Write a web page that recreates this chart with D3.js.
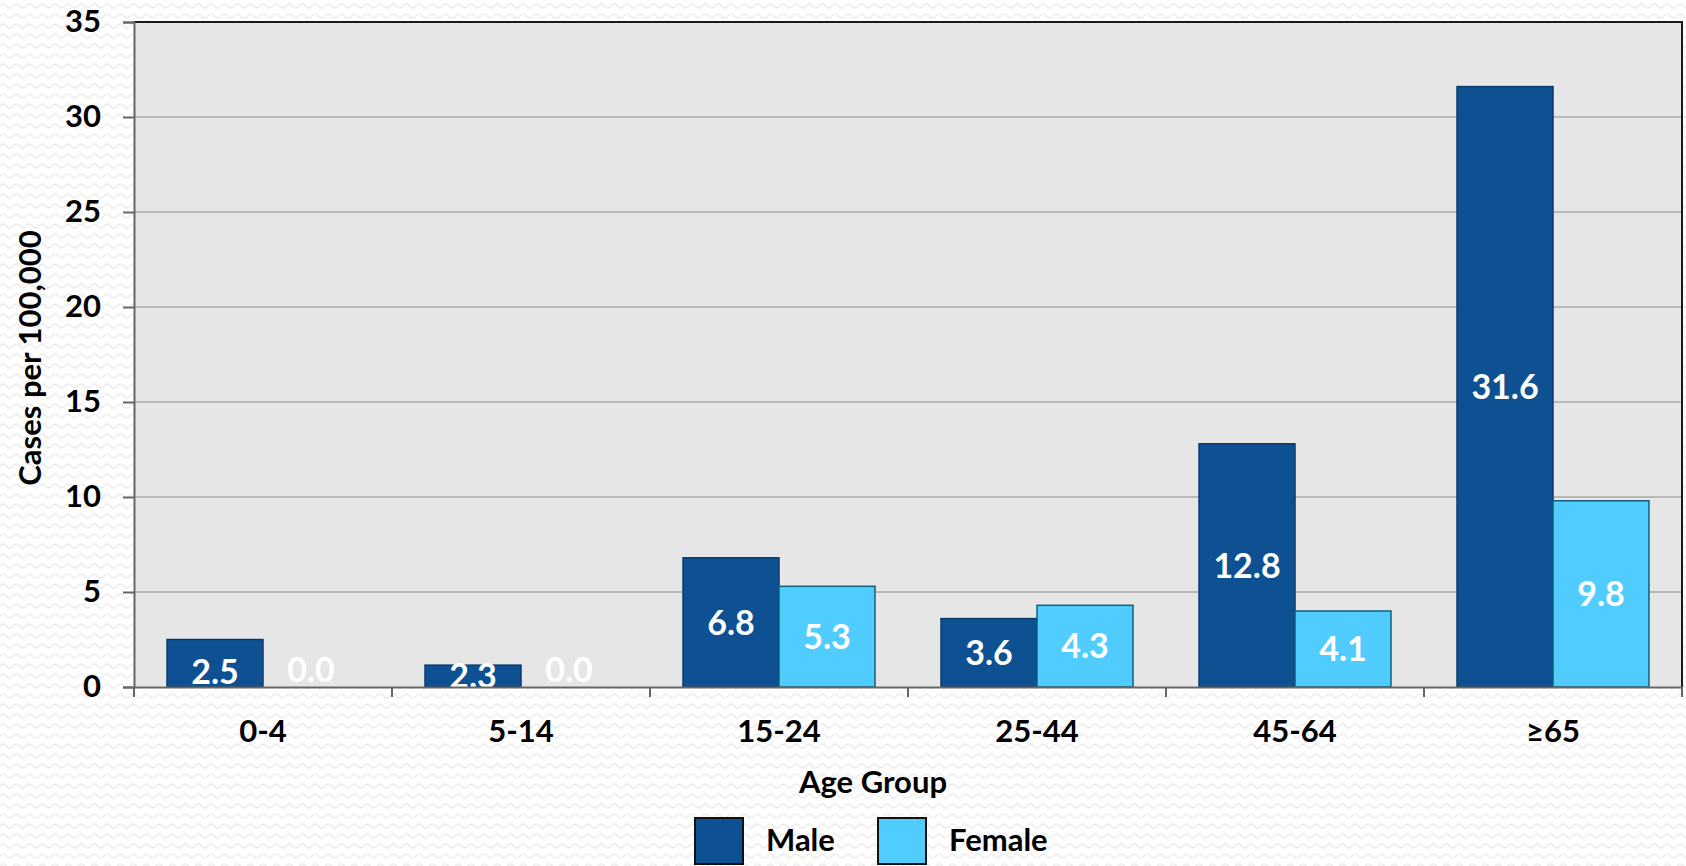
<!DOCTYPE html>
<html>
<head>
<meta charset="utf-8">
<script src="https://cdn.jsdelivr.net/npm/d3@7"></script>
<style>
  html, body { margin: 0; padding: 0; background: #fff; }
  svg { display: block; }
</style>
</head>
<body>
<script>
  "use strict";

  /* chart values */
  var ageGroups = ["0-4", "5-14", "15-24", "25-44", "45-64", "\u226565"];
  var seriesNames = ["Male", "Female"];
  var maleValues = [2.5, 1.15, 6.8, 3.6, 12.8, 31.6];
  var femaleValues = [0.0, 0.0, 5.3, 4.3, 4.0, 9.8];
  /* printed labels (the 5-14 male label does not match its bar in the original) */
  var maleLabels = ["2.5", "2.3", "6.8", "3.6", "12.8", "31.6"];
  var femaleLabels = ["0.0", "0.0", "5.3", "4.3", "4.1", "9.8"];
  var yTicks = [0, 5, 10, 15, 20, 25, 30, 35];

  var width = 1686, height = 866;
  var plotLeft = 134, plotRight = 1682, plotTop = 22, plotBottom = 687;
  var font = "Lato, 'Open Sans', sans-serif";
  var fontSize = "31px";
  var colors = { Male: "#0e5192", Female: "#50cdfe" };
  var strokes = { Male: "#083b6c", Female: "#0f5f80" };

  var svg = d3.select("body")
    .append("svg")
      .attr("width", width)
      .attr("height", height);

  /* faint wavy page texture */
  var defs = svg.append("defs");
  var pat = defs.append("pattern")
      .attr("id", "waves")
      .attr("width", 13)
      .attr("height", 10)
      .attr("patternUnits", "userSpaceOnUse");
  pat.append("rect").attr("width", 13).attr("height", 10).attr("fill", "#ffffff");
  pat.append("path")
      .attr("d", "M0,6 Q3.25,2 6.5,6 T13,6")
      .attr("fill", "none")
      .attr("stroke", "#ececec")
      .attr("stroke-width", 1.3);
  svg.append("rect")
      .attr("width", width)
      .attr("height", height)
      .attr("fill", "url(#waves)");

  var data = ageGroups.map(function (g, i) {
    return [
      { group: g, series: "Male", value: maleValues[i], label: maleLabels[i] },
      { group: g, series: "Female", value: femaleValues[i], label: femaleLabels[i] }
    ];
  });

  var x = d3.scaleBand().domain(ageGroups).range([plotLeft, plotRight]).padding(0);
  var xs = d3.scaleBand().domain(seriesNames).range([0, x.bandwidth()])
      .paddingInner(0).paddingOuter(0.344);
  var y = d3.scaleLinear().domain([0, 35]).range([plotBottom, plotTop]);

  /* plot area */
  svg.append("rect")
      .attr("x", plotLeft).attr("y", plotTop)
      .attr("width", plotRight - plotLeft).attr("height", plotBottom - plotTop)
      .attr("fill", "#e6e6e6");

  /* gridlines */
  svg.append("g")
    .selectAll("line")
    .data(yTicks.filter(function (d) { return d > 0 && d < 35; }))
    .enter().append("line")
      .attr("x1", plotLeft).attr("x2", plotRight)
      .attr("y1", function (d) { return y(d); })
      .attr("y2", function (d) { return y(d); })
      .attr("stroke", "#b9b9b9")
      .attr("stroke-width", 2);

  /* top and right border */
  svg.append("path")
      .attr("d", "M" + plotLeft + "," + plotTop + "H" + plotRight + "V" + plotBottom)
      .attr("fill", "none")
      .attr("stroke", "#1a1a1a")
      .attr("stroke-width", 2);

  /* bars */
  var groups = svg.append("g").selectAll("g")
    .data(data)
    .enter().append("g")
      .attr("transform", function (d, i) { return "translate(" + x(ageGroups[i]) + ",0)"; });

  groups.selectAll("rect")
    .data(function (d) { return d; })
    .enter().append("rect")
      .attr("x", function (d) { return xs(d.series); })
      .attr("y", function (d) { return y(d.value); })
      .attr("width", xs.bandwidth())
      .attr("height", function (d) { return y(0) - y(d.value); })
      .attr("fill", function (d) { return colors[d.series]; })
      .attr("stroke", function (d) { return d.value > 0 ? strokes[d.series] : "none"; })
      .attr("stroke-width", 1.5);

  /* value labels: centred in the bar, short bars keep the label near the base */
  groups.selectAll("text")
    .data(function (d) { return d; })
    .enter().append("text")
      .attr("x", function (d) { return xs(d.series) + xs.bandwidth() / 2; })
      .attr("y", function (d) {
        var c = (y(d.value) + y(0)) / 2;
        if (d.value === 0) return y(0) - 17;
        if (y(0) - y(d.value) < 60) c = Math.max(c, y(0) - 15);
        return c;
      })
      .attr("dy", "0.36em")
      .attr("text-anchor", "middle")
      .style("font-family", font)
      .style("font-weight", "bold")
      .style("font-size", "34px")
      .style("fill", "#ffffff")
      .text(function (d) { return d.label; });

  /* y axis */
  var yAxis = svg.append("g")
      .attr("transform", "translate(" + plotLeft + ",0)")
      .call(d3.axisLeft(y).tickValues(yTicks).tickSize(11).tickPadding(22));
  yAxis.select(".domain").attr("stroke", "#666").attr("stroke-width", 2);
  yAxis.selectAll(".tick line").attr("stroke", "#666").attr("stroke-width", 2);
  yAxis.selectAll(".tick text")
      .style("font-family", font)
      .style("font-weight", "bold")
      .style("font-size", fontSize)
      .style("fill", "#000");

  /* x axis */
  var xAxis = svg.append("g")
      .attr("transform", "translate(0," + plotBottom + ")")
      .call(d3.axisBottom(x).tickSize(0).tickPadding(33));
  xAxis.select(".domain").attr("stroke", "#666").attr("stroke-width", 2);
  xAxis.selectAll(".tick text")
      .style("font-family", font)
      .style("font-weight", "bold")
      .style("font-size", fontSize)
      .style("fill", "#000");
  /* tick marks at band edges */
  xAxis.append("g")
    .selectAll("line")
    .data(ageGroups.concat(["end"]))
    .enter().append("line")
      .attr("x1", function (d, i) { return plotLeft + i * x.step(); })
      .attr("x2", function (d, i) { return plotLeft + i * x.step(); })
      .attr("y1", 0).attr("y2", 10)
      .attr("stroke", "#666")
      .attr("stroke-width", 2);

  /* axis titles */
  svg.append("text")
      .attr("transform", "translate(30," + 358 + ") rotate(-90)")
      .attr("dy", "0.36em")
      .attr("text-anchor", "middle")
      .style("font-family", font)
      .style("font-weight", "bold")
      .style("font-size", fontSize)
      .text("Cases per 100,000");

  svg.append("text")
      .attr("x", 873)
      .attr("y", 793)
      .attr("text-anchor", "middle")
      .style("font-family", font)
      .style("font-weight", "bold")
      .style("font-size", fontSize)
      .text("Age Group");

  /* legend */
  var legendX = [695, 878];
  var legend = svg.append("g").selectAll("g")
    .data(seriesNames)
    .enter().append("g")
      .attr("transform", function (d, i) { return "translate(" + legendX[i] + ",818)"; });
  legend.append("rect")
      .attr("width", 48).attr("height", 46)
      .attr("fill", function (d) { return colors[d]; })
      .attr("stroke", "#111")
      .attr("stroke-width", 2);
  legend.append("text")
      .attr("x", 71)
      .attr("y", 33)
      .style("font-family", font)
      .style("font-weight", "bold")
      .style("font-size", fontSize)
      .text(function (d) { return d; });
</script>
</body>
</html>
